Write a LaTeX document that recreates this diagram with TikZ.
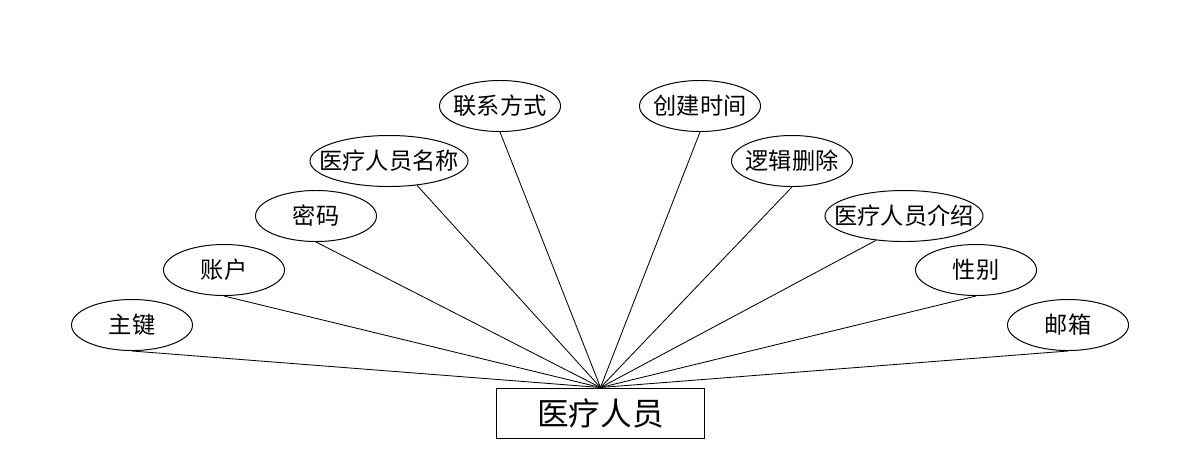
\documentclass[tikz,border=0pt]{standalone}
\usepackage{fontspec}
\usepackage{tikz}
\usetikzlibrary{shapes.geometric}
\setmainfont{Noto Sans CJK SC}
% label that does not widen its ellipse
\newcommand{\attrlabel}[1]{\makebox[0pt]{#1}}
\tikzset{
    % Node styles
    entitybox/.style={
        rectangle,
        draw=black,
        fill=white,
        line width=0.7pt,
        minimum width=5.175cm,
        minimum height=1.25cm,
        inner sep=0pt,
        text centered,
        font=\fontsize{22.5}{26}\selectfont
    },
    attrnode/.style={
        ellipse,
        draw=black,
        fill=white,
        line width=0.7pt,
        minimum width=3.025cm,
        minimum height=1.275cm,
        inner sep=0pt,
        text centered,
        font=\fontsize{16.5}{19}\selectfont
    },
    longattr/.style={
        attrnode,
        minimum width=3.95cm
    },
    % Connector style
    attrline/.style={
        draw=black,
        line width=0.6pt
    }
}
\begin{document}
\begin{tikzpicture}[x=0.025cm,y=-0.025cm]
    \useasboundingbox (0,0) rectangle (1200,468);

    % Entity
    \node[entitybox] (staff) at (600.5,413) {医疗人员};

    % Attributes, left side
    \node[attrnode] (pk) at (132,325) {\attrlabel{主键}};
    \node[attrnode] (account) at (224,270) {\attrlabel{账户}};
    \node[attrnode] (pwd) at (316,216) {\attrlabel{密码}};
    \node[longattr] (name) at (389,161) {\attrlabel{医疗人员名称}};
    \node[attrnode] (contact) at (500,106) {\attrlabel{联系方式}};

    % Attributes, right side
    \node[attrnode] (created) at (700,106) {\attrlabel{创建时间}};
    \node[attrnode] (deleted) at (792,161) {\attrlabel{逻辑删除}};
    \node[longattr] (intro) at (904,216) {\attrlabel{医疗人员介绍}};
    \node[attrnode] (gender) at (976,270) {\attrlabel{性别}};
    \node[attrnode] (mail) at (1068,325) {\attrlabel{邮箱}};

    % Connectors
    \foreach \a in {pk,account,pwd,contact,created,deleted,gender,mail}
        \draw[attrline] (\a.south) -- (staff.north);
    \draw[attrline] (name.-41) -- (staff.north);
    \draw[attrline] (intro.-139) -- (staff.north);
\end{tikzpicture}
\end{document}
